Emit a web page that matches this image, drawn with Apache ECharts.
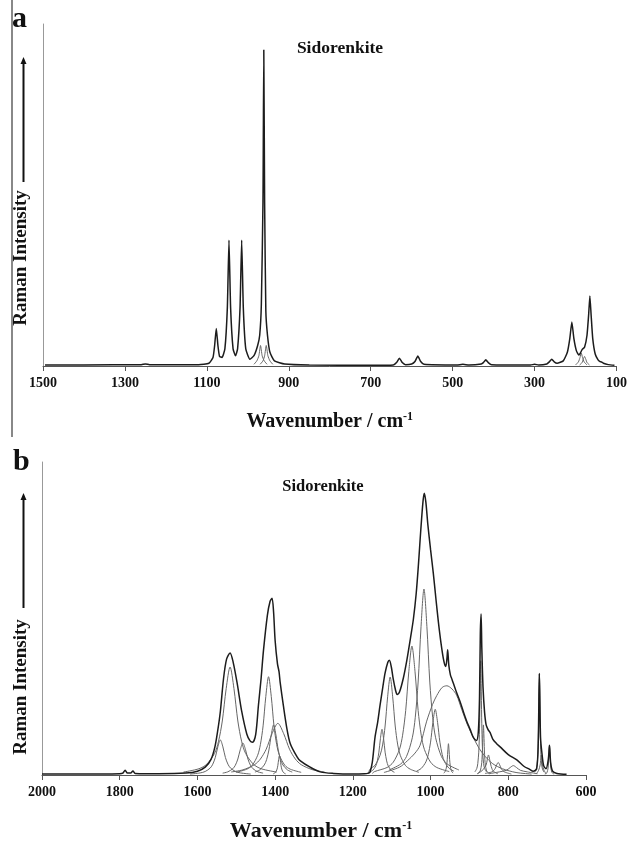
<!DOCTYPE html>
<html>
<head>
<meta charset="utf-8">
<script src="https://cdn.jsdelivr.net/npm/echarts@6/dist/echarts.min.js"></script>
<style>
  html, body { margin: 0; padding: 0; background: #fff; }
</style>
</head>
<body>

<!-- chart container, same size as the window -->
<div id="main" style="width: 630px;height:843px;"></div>

<script type="text/javascript">
    // ---- data: [wavenumber, relative intensity (0-100)] ----

    // panel a, tick labels
    var aTicks = [1500, 1300, 1100, 900, 700, 500, 300, 100];
    // panel a, measured spectrum (envelope)
    var aTotal = [
        [1495, 0.3], [1400, 0.3], [1260, 0.4], [1250, 0.6], [1240, 0.4], [1120, 0.4],
        [1095, 0.8], [1085, 2.5], [1081, 6], [1077, 11], [1073, 6], [1069, 2.8],
        [1063, 2.5], [1056, 5], [1050, 17], [1046, 36.8], [1042, 17], [1036, 5],
        [1030, 3], [1025, 5], [1019, 17], [1015, 36.8], [1011, 17], [1005, 5],
        [995, 2], [985, 3], [976, 6], [971, 9], [967, 18], [963, 48], [961, 92.4],
        [959, 48], [956, 16], [952, 9], [946, 4], [935, 1.5], [910, 0.6], [850, 0.3],
        [700, 0.2], [645, 0.3], [637, 1], [630, 2.3], [623, 1], [615, 0.4], [600, 0.6],
        [592, 1.3], [585, 2.9], [578, 1.3], [570, 0.5], [490, 0.3], [475, 0.5], [460, 0.3],
        [430, 0.6], [425, 1], [419, 1.8], [413, 1], [405, 0.4], [310, 0.3], [300, 0.5],
        [290, 0.3], [270, 0.6], [264, 1.2], [258, 2], [252, 1.2], [245, 0.8], [230, 1.5],
        [220, 4], [214, 8], [209, 12.9], [204, 8], [198, 4.5], [192, 3.2], [188, 3.8],
        [184, 4.8], [178, 5.5], [172, 9], [168, 15], [165, 20.5], [162, 15], [158, 8],
        [152, 3.5], [145, 1.8], [140, 1.3], [137, 1.2], [132, 0.8], [120, 0.4], [105, 0.2]
    ];
    // panel a, fitted component bands (only those that stand apart from the envelope)
    var aBands = [
        [[985, 0.5], [978, 1.5], [973, 3], [969, 6], [965, 3], [960, 1.5], [953, 0.5]],
        [[970, 0.5], [963, 1.5], [959, 3], [955, 6], [951, 3], [946, 1.5], [939, 0.5]],
        [[200, 0.3], [193, 1.2], [189, 2.5], [186, 3.8], [183, 2.5], [179, 1.2], [172, 0.3]],
        [[190, 0.3], [184, 1], [181, 2], [178, 2.8], [175, 2], [172, 1], [166, 0.3]]
    ];

    // panel b, tick labels
    var bTicks = [2000, 1800, 1600, 1400, 1200, 1000, 800, 600];
    // panel b, measured spectrum (envelope)
    var bTotal = [
        [2000, 0.3], [1900, 0.3], [1800, 0.4], [1792, 0.6], [1786, 1.5], [1780, 0.6],
        [1772, 0.6], [1766, 1.3], [1760, 0.5], [1700, 0.4], [1630, 0.6], [1600, 1.2],
        [1580, 2.5], [1565, 5], [1555, 9], [1548, 14], [1541, 20.3], [1533, 30.6],
        [1525, 37], [1516, 39], [1508, 36], [1498, 29.5], [1486, 20.3], [1473, 13.1],
        [1465, 11], [1458, 10.5], [1450, 13], [1443, 22.3], [1436, 31], [1430, 39.8],
        [1420, 51], [1413, 55.5], [1408, 56.5], [1404, 52], [1400, 42.9], [1394, 35.5],
        [1390, 33], [1387, 29.5], [1379, 22.3], [1370, 15], [1361, 10], [1344, 5.9],
        [1335, 4.5], [1310, 2.5], [1284, 1], [1250, 0.5], [1200, 0.3], [1170, 0.4],
        [1160, 0.6], [1156, 0.9], [1150, 4], [1143, 12], [1136, 17], [1130, 22.3],
        [1123, 28], [1117, 32.6], [1110, 36], [1106, 36.7], [1101, 34.5], [1096, 30.6],
        [1090, 27], [1086, 25.7], [1080, 26.5], [1070, 31], [1061, 36.7], [1052, 43.5],
        [1044, 50], [1037, 58], [1031, 67.6], [1027, 75], [1023, 82], [1019, 88],
        [1016, 90], [1012, 87], [1007, 80], [1000, 72], [993, 64.5], [986, 56],
        [980, 49], [973, 42], [966, 36.5], [961, 34.7], [958, 37], [956, 40], [953, 35],
        [949, 32], [945, 30.6], [935, 27], [924, 23.4], [915, 20], [907, 17.2],
        [898, 14.5], [890, 12], [882, 11], [877, 14], [874, 25], [872, 45], [870, 51.4],
        [868, 40], [865, 28], [861, 20], [857, 16], [852, 14.5], [847, 13.6], [840, 11.5],
        [830, 10], [821, 9], [800, 6.5], [778, 4.8], [760, 2.8], [745, 1.8], [736, 1.2],
        [727, 2], [723, 10], [720, 32.4], [717, 12], [713, 6.5], [709, 3], [703, 2],
        [697, 5], [694, 9.5], [691, 4], [686, 1.2], [675, 0.5], [650, 0.2]
    ];
    // panel b, fitted component bands
    var bBands = [
        [[1619, 0.3], [1593, 0.66], [1580, 1.12], [1567, 2.24], [1560.5, 3.45], [1554, 5.6], [1547.5, 9], [1541, 11.2], [1534.5, 9], [1528, 5.6], [1521.5, 3.45], [1515, 2.24], [1502, 1.12], [1489, 0.66], [1463, 0.3]],
        [[1636, 0.93], [1596, 2], [1576, 3.45], [1556, 6.9], [1546, 10.6], [1536, 17.25], [1526, 27.6], [1516, 34.5], [1506, 27.6], [1496, 17.25], [1486, 10.6], [1476, 6.9], [1456, 3.45], [1436, 2], [1396, 0.93]],
        [[1535, 0.6], [1522, 1], [1509, 2], [1502.5, 3.1], [1496, 5.1], [1489.5, 8.2], [1483, 10.2], [1476.5, 8.2], [1470, 5.1], [1463.5, 3.1], [1457, 2], [1444, 1], [1431, 0.6]],
        [[1501, 0.85], [1473, 1.85], [1459, 3.1], [1445, 6.3], [1438, 9.7], [1431, 15.7], [1424, 25.1], [1417, 31.4], [1410, 25.1], [1403, 15.7], [1396, 9.7], [1389, 6.3], [1375, 3.1], [1361, 1.85], [1333, 0.85]],
        [[1452, 0.94], [1440, 1.6], [1428, 3.2], [1422, 4.9], [1416, 8], [1410, 12.8], [1404, 16], [1398, 12.8], [1392, 8], [1386, 4.9], [1380, 3.2], [1368, 1.6], [1356, 0.94]],
        [[1513, 0.97], [1483, 1.65], [1453, 3.3], [1438, 5.1], [1423, 8.25], [1408, 13.2], [1393, 16.5], [1378, 13.2], [1363, 8.25], [1348, 5.1], [1333, 3.3], [1303, 1.65], [1273, 0.97]],
        [[1405, 0.36], [1401, 0.62], [1397, 1.24], [1395, 1.9], [1393, 3.1], [1391, 5], [1389, 6.2], [1387, 5], [1385, 3.1], [1383, 1.9], [1381, 1.24], [1377, 0.62], [1373, 0.36]],
        [[1160, 0.3], [1157, 0.86], [1149, 1.46], [1141, 2.9], [1137, 4.5], [1133, 7.3], [1129, 11.7], [1125, 14.6], [1121, 11.7], [1117, 7.3], [1113, 4.5], [1109, 2.9], [1101, 1.46], [1093, 0.86]],
        [[1160, 0.5], [1156, 1.84], [1143, 3.1], [1130, 6.3], [1123.5, 9.6], [1117, 15.65], [1110.5, 25], [1104, 31.3], [1097.5, 25], [1091, 15.65], [1084.5, 9.6], [1078, 6.3], [1065, 3.1], [1052, 1.84], [1030, 0.85]],
        [[1150, 0.5], [1144, 1.1], [1112, 2.4], [1096, 4.1], [1080, 8.2], [1072, 12.7], [1064, 20.6], [1056, 33], [1048, 41.2], [1040, 33], [1032, 20.6], [1024, 12.7], [1016, 8.2], [1000, 4.1], [984, 2.4], [952, 1.1]],
        [[1107, 1.6], [1077, 3.5], [1062, 5.9], [1047, 11.9], [1039.5, 18.3], [1032, 29.7], [1024.5, 47.5], [1017, 59.4], [1009.5, 47.5], [1002, 29.7], [994.5, 18.3], [987, 11.9], [972, 5.9], [957, 3.5], [927, 1.6]],
        [[1036, 1.24], [1024, 2.1], [1012, 4.2], [1006, 6.5], [1000, 10.5], [994, 16.8], [988, 21], [982, 16.8], [976, 10.5], [970, 6.5], [964, 4.2], [952, 2.1], [940, 1.24]],
        [[1120, 0.8], [1080, 2.5], [1060, 4.5], [1040, 7], [1027, 9.5], [1010, 17.2], [995, 22.5], [984, 25.4], [970, 28], [958, 28.5], [945, 27.5], [933, 25.5], [920, 21], [905, 16], [890, 12], [875, 8.5], [860, 6], [840, 3.6], [815, 2], [780, 0.8], [740, 0.3]],
        [[966, 0.6], [963, 1], [960, 2], [958.5, 3.1], [957, 5], [955.5, 8], [954, 10], [952.5, 8], [951, 5], [949.5, 3.1], [948, 2], [945, 1], [942, 0.6]],
        [[886, 1], [881, 2.1], [878.5, 3.65], [876, 7.3], [874.75, 11.2], [873.5, 18.25], [872.25, 29.2], [871, 36.5], [869.75, 29.2], [868.5, 18.25], [867.25, 11.2], [866, 7.3], [863.5, 3.65], [861, 2.1], [856, 1]],
        [[879, 0.45], [874, 0.95], [871.5, 1.6], [869, 3.2], [867.75, 4.9], [866.5, 8], [865.25, 12.8], [864, 16], [862.75, 12.8], [861.5, 8], [860.25, 4.9], [859, 3.2], [856.5, 1.6], [854, 0.95], [849, 0.45]],
        [[880, 0.4], [868, 1.3], [863, 2.1], [857, 3.2], [854, 5], [851, 6.4], [848, 5], [845, 3.2], [839, 1.3], [827, 0.4]],
        [[860, 0.5], [842, 1], [834, 2], [830, 3.2], [826, 4], [822, 3.2], [818, 2], [810, 1], [792, 0.3]],
        [[850, 0.4], [823, 1], [805, 1.5], [795, 2.4], [787, 3], [779, 2.4], [769, 1.5], [751, 1], [725, 0.4]],
        [[732, 0.9], [728, 1.9], [726, 3.24], [724, 6.5], [723, 10], [722, 16.2], [721, 25.9], [720, 32.4], [719, 25.9], [718, 16.2], [717, 10], [716, 6.5], [714, 3.24], [712, 1.9], [708, 0.9]],
        [[728, 0.3], [722, 1.5], [718, 3.2], [715, 6.4], [712, 3.2], [708, 1.5], [702, 0.3]],
        [[706, 0.3], [702, 0.56], [700, 0.95], [698, 1.9], [697, 2.9], [696, 4.75], [695, 7.6], [694, 9.5], [693, 7.6], [692, 4.75], [691, 2.9], [690, 1.9], [688, 0.95], [686, 0.56], [682, 0.3]]
    ];

    var titleText = 'Sidorenkite';
    var xName = 'Wavenumber / cm{sup|-1}';
    var yName = 'Raman Intensity';

    // ---- styling ----
    var serif = "'Liberation Serif', 'Times New Roman', serif";
    var bandColor = '#666';
    var totalColor = '#1c1c1c';

    function xAxisFor(grid, ticks, nameSize, namePad) {
        var lo = Math.min.apply(null, ticks), hi = Math.max.apply(null, ticks);
        return {
            type: 'value', gridIndex: grid, min: lo, max: hi, interval: 200, inverse: true,
            axisLine: { onZero: false, lineStyle: { color: '#555', width: 1 } },
            axisTick: { show: true, length: 5, lineStyle: { color: '#555' } },
            splitLine: { show: false },
            axisLabel: { color: '#111', fontFamily: serif, fontWeight: 'bold', fontSize: 14, margin: 10,
                formatter: function (v) { return String(v); } },
            name: xName, nameLocation: 'middle', nameGap: 45,
            nameTextStyle: {
                color: '#111', fontFamily: serif, fontWeight: 'bold', fontSize: nameSize, lineHeight: 22,
                padding: namePad,
                rich: { sup: { fontFamily: serif, fontWeight: 'bold', fontSize: 12, lineHeight: 22, verticalAlign: 'top', color: '#111' } }
            }
        };
    }
    function yAxisFor(grid) {
        return {
            type: 'value', gridIndex: grid, min: 0, max: 100, position: 'left',
            axisLine: { show: true, onZero: false, lineStyle: { color: '#999', width: 1 } },
            axisTick: { show: false }, axisLabel: { show: false }, splitLine: { show: false }
        };
    }

    var series = [];
    aBands.forEach(function (d) {
        series.push({ type: 'line', xAxisIndex: 0, yAxisIndex: 0, data: d, showSymbol: false, smooth: 0.2,
            lineStyle: { color: bandColor, width: 1 }, silent: true, z: 2 });
    });
    series.push({ type: 'line', xAxisIndex: 0, yAxisIndex: 0, data: aTotal, showSymbol: false, smooth: 0.15,
        lineStyle: { color: totalColor, width: 1.5 }, silent: true, z: 3 });
    bBands.forEach(function (d) {
        series.push({ type: 'line', xAxisIndex: 1, yAxisIndex: 1, data: d, showSymbol: false, smooth: 0.3,
            lineStyle: { color: bandColor, width: 1 }, silent: true, z: 2 });
    });
    series.push({ type: 'line', xAxisIndex: 1, yAxisIndex: 1, data: bTotal, showSymbol: false, smooth: 0.3,
        lineStyle: { color: totalColor, width: 1.5 }, silent: true, z: 3 });

    // y label with an upward arrow, drawn beside each plot
    function yLabel(cy, arrowBottom, arrowTop) {
        return [
            { type: 'text', x: 21, y: cy, rotation: Math.PI / 2,
              style: { text: yName, font: 'bold 19px ' + serif, fill: '#111', align: 'center', verticalAlign: 'middle' } },
            { type: 'line', shape: { x1: 23.5, y1: arrowBottom, x2: 23.5, y2: arrowTop + 5 },
              style: { stroke: '#111', lineWidth: 2 } },
            { type: 'polygon', shape: { points: [[23.5, arrowTop], [20.5, arrowTop + 7], [26.5, arrowTop + 7]] },
              style: { fill: '#111' } }
        ];
    }

    var option = {
        backgroundColor: '#fff',
        animation: false,
        title: [
            { text: titleText, left: 335, top: 34, textAlign: 'center',
              textStyle: { fontFamily: serif, fontWeight: 'bold', fontSize: 17.5, color: '#111' } },
            { text: titleText, left: 318, top: 473, textAlign: 'center',
              textStyle: { fontFamily: serif, fontWeight: 'bold', fontSize: 16.5, color: '#111' } }
        ],
        grid: [
            { left: 43, top: 24, width: 575, height: 342 },
            { left: 42, top: 462, width: 544, height: 324 }
        ],
        xAxis: [xAxisFor(0, aTicks, 20, 0), xAxisFor(1, bTicks, 22, [0, 0, 0, 14])],
        yAxis: [yAxisFor(0), yAxisFor(1)],
        series: series,
        graphic: [
            { type: 'line', shape: { x1: 12, y1: 0, x2: 12, y2: 437 }, style: { stroke: '#888', lineWidth: 2 } },
            { type: 'text', x: 12, y: 34, style: { text: 'a', font: 'bold 30px ' + serif, fill: '#111', verticalAlign: 'bottom' } },
            { type: 'text', x: 13, y: 477, style: { text: 'b', font: 'bold 30px ' + serif, fill: '#111', verticalAlign: 'bottom' } }
        ].concat(yLabel(258, 182, 57)).concat(yLabel(687, 608, 493))
    };

    var myChart = echarts.init(document.getElementById('main'));
    myChart.setOption(option);
</script>

</body>
</html>
